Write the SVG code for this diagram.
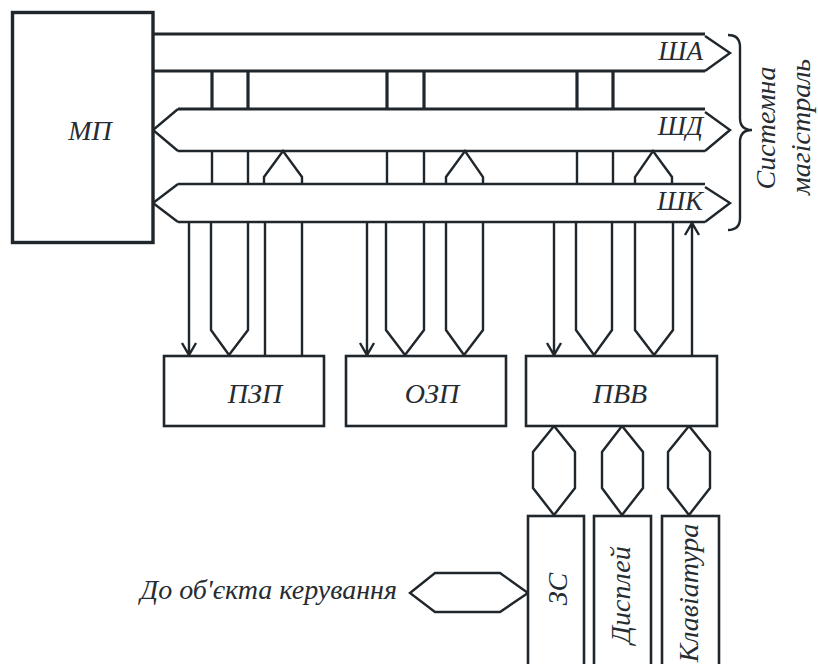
<svg xmlns="http://www.w3.org/2000/svg" width="818" height="664" viewBox="0 0 818 664">
<style>
.b{fill:#fff;stroke:#1f262c;stroke-width:2.6}
.thick{stroke-width:3.4}
.ln{fill:none;stroke:#1f262c;stroke-width:2.4;stroke-linejoin:miter}
.lt{fill:none;stroke:#1f262c;stroke-width:3.2}
text{font-family:'Liberation Serif','Times New Roman',serif;font-style:italic;fill:#262c32;font-size:28px}
.bus{font-size:27px;text-anchor:end}
.c{text-anchor:middle}
</style>
<rect width="818" height="664" fill="#fff"/>
<g id="connectors">
  <path class="lt" d="M153,34 H705 M153,71 H705"/>
  <path class="ln" d="M705,36 L730,53 L705,71"/>
  <path class="lt" d="M178,109 H705"/>
  <path class="ln" d="M178,151 H705 M178,109 L153,130 L178,151 M705,112 L730,130 L705,151"/>
  <path class="ln" d="M178,184 H705 M178,222 H705 M178,184 L153,203 L178,222 M705,187 L730,203 L705,222"/>
  <path class="lt" d="M212,71 V109 M248,71 V109 M387,71 V109 M424,71 V109 M577,71 V109 M613,71 V109"/>
  <path class="ln" d="M212,151 V184 M248,151 V184 M387,151 V184 M424,151 V184 M577,151 V184 M613,151 V184"/>
  <path class="ln" d="M264,184 V177 L283,151 L302,177 V184 M446,184 V177 L465,151 L483,177 V184 M635,184 V177 L653,151 L672,177 V184"/>
  <path class="ln" d="M189,222 V355 M182,343 L189,355 L196,343"/>
  <path class="ln" d="M211,222 V330 L229,355 L248,330 V222"/>
  <path class="ln" d="M265,222 V356 M302,222 V356"/>
  <path class="ln" d="M367,222 V355 M360,343 L367,355 L374,343"/>
  <path class="ln" d="M386,222 V330 L405,355 L424,330 V222"/>
  <path class="ln" d="M446,222 V330 L464,355 L483,330 V222"/>
  <path class="ln" d="M554,222 V355 M547,343 L554,355 L561,343"/>
  <path class="ln" d="M576,222 V330 L594,355 L612,330 V222"/>
  <path class="ln" d="M635,222 V330 L654,355 L673,330 V222"/>
  <path class="ln" d="M692,356 V223 M685,235 L692,223 L699,235"/>
  <path class="ln" d="M554,426 L533,452 V488 L554,515 L575,488 V452 Z"/>
  <path class="ln" d="M622,426 L602,452 V488 L622,515 L643,488 V452 Z"/>
  <path class="ln" d="M689,426 L668,452 V488 L689,515 L710,488 V452 Z"/>
  <path class="ln" d="M410,593 L435,573 H500 L528,593 L500,612 H435 Z"/>
  <path class="ln" d="M728,35 Q740,35 740,47 L740,118 Q740,130 752,130 Q740,130 740,142 L740,218 Q740,230 728,230"/>
</g>
<g id="mp"><rect class="b thick" x="12.5" y="12.5" width="140.5" height="230"/><text class="c" x="90" y="140">МП</text></g>
<g id="pzp"><rect class="b" x="164" y="356" width="160" height="70"/><text class="c" x="255" y="403">ПЗП</text></g>
<g id="ozp"><rect class="b" x="346" y="356" width="160" height="70"/><text class="c" x="432" y="403">ОЗП</text></g>
<g id="pvv"><rect class="b" x="526" y="356" width="191" height="70"/><text class="c" x="620" y="403">ПВВ</text></g>
<g id="zs"><rect class="b" x="528" y="516" width="56" height="160"/><text class="c" transform="translate(567,589) rotate(-90)">ЗС</text></g>
<g id="display"><rect class="b" x="594" y="516" width="57" height="160"/><text class="c" transform="translate(630,595) rotate(-90)">Дисплей</text></g>
<g id="keyboard"><rect class="b" x="662" y="516" width="57" height="160"/><text class="c" transform="translate(698,593) rotate(-90)">Клавіатура</text></g>
<g id="labels">
  <text class="bus" x="703" y="60">ША</text>
  <text class="bus" x="703" y="135">ШД</text>
  <text class="bus" x="703" y="210">ШК</text>
  <text class="c" transform="translate(775,128) rotate(-90)">Системна</text>
  <text class="c" transform="translate(810,127) rotate(-90)">магістраль</text>
  <text x="397" y="599" text-anchor="end">До об'єкта керування</text>
</g>
</svg>
